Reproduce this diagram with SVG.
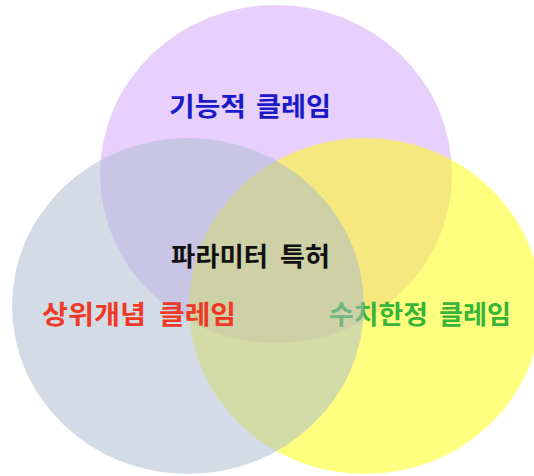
<svg xmlns="http://www.w3.org/2000/svg" width="534" height="476" viewBox="0 0 534 476">
  <style>
    .lbl { font-family: "Noto Sans CJK KR", "Noto Sans", sans-serif; font-size: 26px; font-weight: 700; }
    .purple { fill: #e8d0fc; }
    .yellow { fill: #ffff00; fill-opacity: 0.5; }
    .blue { fill: #a7b9cd; fill-opacity: 0.5; }
  </style>
  <rect x="0" y="0" width="534" height="476" fill="#ffffff"/>
  <g id="node-functional">
    <ellipse class="purple" cx="276" cy="174" rx="176" ry="169"/>
    <text class="lbl" fill="#1a1ac8" y="115.5"><tspan x="169" textLength="77" lengthAdjust="spacingAndGlyphs">기능적</tspan><tspan x="256" textLength="75" lengthAdjust="spacingAndGlyphs">클레임</tspan></text>
  </g>
  <g id="node-numerical">
    <ellipse class="yellow" cx="365" cy="306" rx="176" ry="168"/>
    <text class="lbl" fill="#38b438" y="323.5"><tspan x="329" textLength="99" lengthAdjust="spacingAndGlyphs">수치한정</tspan><tspan x="439" textLength="72" lengthAdjust="spacingAndGlyphs">클레임</tspan></text>
  </g>
  <g id="node-generic">
    <ellipse class="blue" cx="188" cy="306" rx="176" ry="168"/>
    <text class="lbl" fill="#ee3a24" y="323.5"><tspan x="42" textLength="104" lengthAdjust="spacingAndGlyphs">상위개념</tspan><tspan x="159" textLength="77" lengthAdjust="spacingAndGlyphs">클레임</tspan></text>
  </g>
  <g id="node-parameter">
    <text class="lbl" fill="#111111" y="266"><tspan x="171" textLength="97" lengthAdjust="spacingAndGlyphs">파라미터</tspan><tspan x="280" textLength="50" lengthAdjust="spacingAndGlyphs">특허</tspan></text>
  </g>
  <g id="connectors"/>
</svg>
